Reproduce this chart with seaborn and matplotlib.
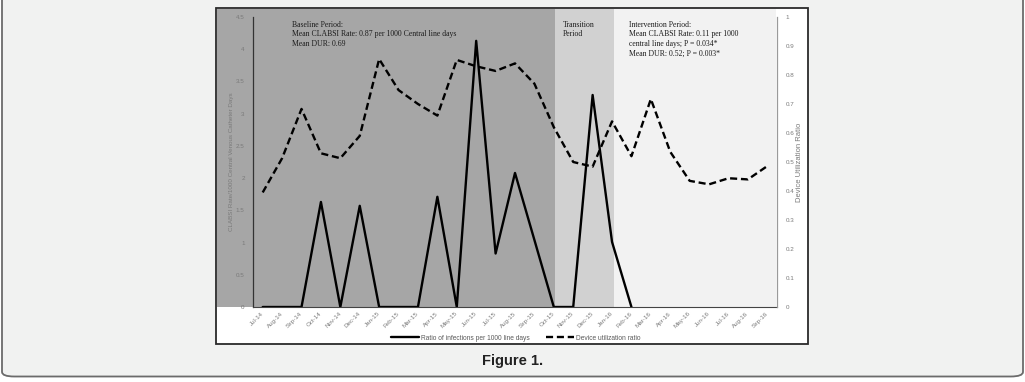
import numpy as np
import matplotlib
matplotlib.use("Agg")
import matplotlib.pyplot as plt
import seaborn as sns
from matplotlib.patches import Rectangle, FancyBboxPatch
from matplotlib.lines import Line2D
import matplotlib.transforms as mtransforms

months = ['Jul-14', 'Aug-14', 'Sep-14', 'Oct-14', 'Nov-14', 'Dec-14', 'Jan-15', 'Feb-15',
          'Mar-15', 'Apr-15', 'May-15', 'Jun-15', 'Jul-15', 'Aug-15', 'Sep-15', 'Oct-15',
          'Nov-15', 'Dec-15', 'Jan-16', 'Feb-16', 'Mar-16', 'Apr-16', 'May-16', 'Jun-16',
          'Jul-16', 'Aug-16', 'Sep-16']
clabsi_rate = [0, 0, 0, 1.63, 0, 1.57, 0, 0, 0, 1.71, 0, 4.13, 0.83, 2.08, 1.04, 0,
               0, 3.29, 1.01, 0] + [np.nan] * 7
device_util = [0.395, 0.513, 0.683, 0.53, 0.513, 0.59, 0.855, 0.748, 0.70, 0.66, 0.852,
               0.83, 0.814, 0.84, 0.77, 0.62, 0.50, 0.484, 0.64, 0.52, 0.717, 0.535,
               0.435, 0.423, 0.444, 0.44, 0.486]
left_ticks = [0, 0.5, 1, 1.5, 2, 2.5, 3, 3.5, 4, 4.5]
left_tick_labels = ['0', '0.5', '1', '1.5', '2', '2.5', '3', '3.5', '4', '4.5']
right_ticks = [0, 0.1, 0.2, 0.3, 0.4, 0.5, 0.6, 0.7, 0.8, 0.9, 1]
right_tick_labels = ['0', '0.1', '0.2', '0.3', '0.4', '0.5', '0.6', '0.7', '0.8', '0.9', '1']
period_bounds = [15.05, 18.1]

sns.set_style("white")
plt.rcParams['font.family'] = ['Liberation Sans', 'DejaVu Sans']

W, H = 1025, 382
fig = plt.figure(figsize=(W / 100, H / 100), dpi=100)
fig.patch.set_facecolor('white')

def fx(x):
    return x / W

def fy(y):
    return 1 - y / H

# outer rounded frame
outer = FancyBboxPatch((fx(2), fy(376.5)), fx(1021), fy(-30) - fy(376.5),
                       boxstyle="round,pad=0,rounding_size=0.012",
                       transform=fig.transFigure, facecolor='#f1f2f1',
                       edgecolor='#6b6b6b', linewidth=1.3, zorder=-5)
fig.add_artist(outer)

# inner white panel
panel = Rectangle((fx(216), fy(344)), fx(592), fy(8) - fy(344), transform=fig.transFigure,
                  facecolor='white', edgecolor='#2a2a2a', linewidth=1.3, zorder=-4)
fig.add_artist(panel)

ax = fig.add_axes([fx(253), fy(307), fx(524), fy(17) - fy(307)])
ax.patch.set_visible(False)
ax2 = ax.twinx()
ax2.patch.set_visible(False)

x = np.arange(len(months))
ax.set_xlim(-0.5, len(months) - 0.5)

# period background shading (x in data, y in figure)
blend = mtransforms.blended_transform_factory(ax.transData, fig.transFigure)
left_px_data = -0.5 - (253 - 216.7) / (524 / len(months))
regions = [(left_px_data, period_bounds[0], '#a6a6a6'),
           (period_bounds[0], period_bounds[1], '#d1d1d1'),
           (period_bounds[1], len(months) - 0.55, '#f2f2f2')]
for x0, x1, c in regions:
    fig.add_artist(Rectangle((x0, fy(307)), x1 - x0, fy(8.7) - fy(307), transform=blend,
                             facecolor=c, edgecolor='none', zorder=-3))

sns.lineplot(x=x, y=clabsi_rate, ax=ax, color='black', linewidth=1.7)
sns.lineplot(x=x, y=device_util, ax=ax2, color='black', linewidth=1.7,
             linestyle=(0, (3, 1.6)))

ax.set_ylim(0, 4.5)
ax2.set_ylim(0, 1)
ax.set_yticks(left_ticks)
ax.set_yticklabels(left_tick_labels)
ax2.set_yticks(right_ticks)
ax2.set_yticklabels(right_tick_labels)
ax.set_xticks(x)
ax.set_xticklabels(months, rotation=45, ha='right', va='center', rotation_mode='anchor')

tick_col = '#7a7a7a'
ax.tick_params(axis='y', length=0, pad=6, labelsize=4.5, labelcolor=tick_col)
ax2.tick_params(axis='y', length=0, pad=6, labelsize=4.5, labelcolor=tick_col)
ax.tick_params(axis='x', length=0, pad=4, labelsize=4.5, labelcolor=tick_col)

for a in (ax, ax2):
    for s in a.spines.values():
        s.set_visible(False)
ax.spines['left'].set_visible(True)
ax.spines['left'].set_color('#333333')
ax.spines['left'].set_linewidth(0.9)
ax.spines['bottom'].set_visible(True)
ax.spines['bottom'].set_color('#444444')
ax.spines['bottom'].set_linewidth(0.8)
ax2.spines['right'].set_visible(True)
ax2.spines['right'].set_color('#9a9a9a')
ax2.spines['right'].set_linewidth(0.9)

ax.set_ylabel('CLABSI Rate/1000 Central Venous Catheter Days', fontsize=4.5, color=tick_col)
ax.yaxis.set_label_coords((234 - 253) / 524, 0.5)
ax2.set_ylabel('Device Utilization Ratio', fontsize=5.5, color=tick_col)
ax2.yaxis.set_label_coords((796 - 253) / 524, 0.5)
ax.set_xlabel('')

serif = ['Liberation Serif', 'DejaVu Serif']
txt_col = '#1c1c1c'
fig.text(fx(292), fy(21), 'Baseline Period:\nMean CLABSI Rate: 0.87 per 1000 Central line days\nMean DUR: 0.69',
         family=serif, fontsize=5.6, color=txt_col, va='top', ha='left', linespacing=1.25)
fig.text(fx(563), fy(21), 'Transition\nPeriod',
         family=serif, fontsize=5.6, color=txt_col, va='top', ha='left', linespacing=1.25)
fig.text(fx(629), fy(21), 'Intervention Period:\nMean CLABSI Rate: 0.11 per 1000\ncentral line days; P = 0.034*\nMean DUR: 0.52; P = 0.003*',
         family=serif, fontsize=5.6, color=txt_col, va='top', ha='left', linespacing=1.25)

handles = [Line2D([], [], color='black', linewidth=1.7),
           Line2D([], [], color='black', linewidth=1.7, linestyle=(0, (3, 1.6)))]
labels = ['Ratio of infections per 1000 line days', 'Device utilization ratio']
leg = fig.legend(handles, labels, loc='center', bbox_to_anchor=(fx(516), fy(338)), ncol=2,
                 frameon=False, fontsize=4.8, handlelength=4.2, columnspacing=2.5,
                 handletextpad=0.3, labelcolor='#5a5a5a')

fig.text(0.5, fy(361), 'Figure 1.', ha='center', va='center', fontsize=10.5,
         fontweight='bold', color='#222222', family=['Liberation Sans Narrow', 'Liberation Sans', 'DejaVu Sans'])

fig.savefig('out.png', dpi=100, facecolor=fig.get_facecolor())
